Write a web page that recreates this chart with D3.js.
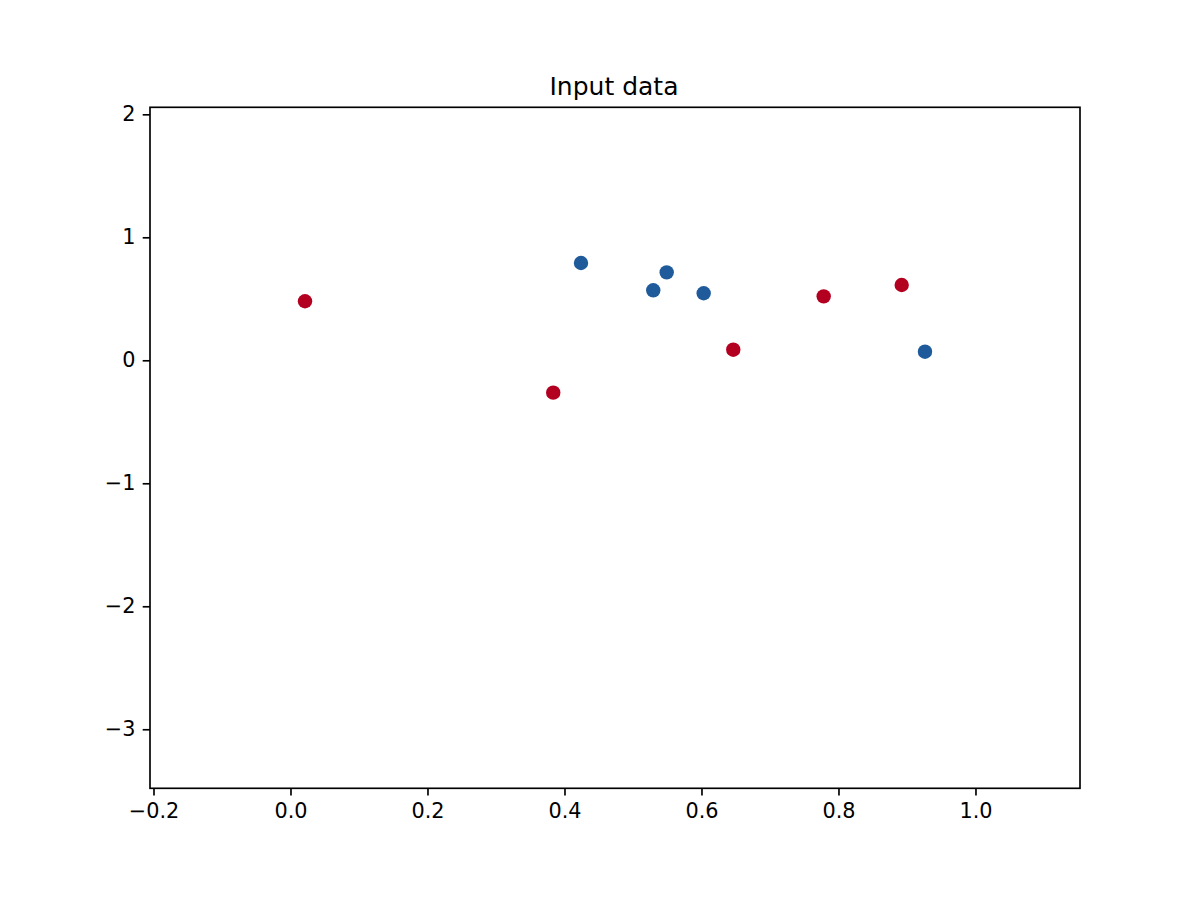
<!DOCTYPE html>
<html><head><meta charset="utf-8">
<script src="https://cdn.jsdelivr.net/npm/d3@7"></script>
<style>body{margin:0;background:#fff}svg{display:block}text{font-family:"DejaVu Sans",sans-serif}</style>
</head><body>
<svg id="c" width="1200" height="900"></svg>
<script>
const redX = [0.0212, 0.3836, 0.6464, 0.7784, 0.8923];
const redY = [0.480, -0.263, 0.086, 0.520, 0.612];
const blueX = [0.4241, 0.5492, 0.5296, 0.6032, 0.9263];
const blueY = [0.791, 0.715, 0.569, 0.545, 0.070];
const xTicks = [-0.2, 0.0, 0.2, 0.4, 0.6, 0.8, 1.0];
const yTicks = [-3, -2, -1, 0, 1, 2];
const title = "Input data";

const L = 150, R = 1080, T = 107.3, B = 788.3;
const svg = d3.select("#c");
const x = d3.scaleLinear().domain([-0.2051, 1.1526]).range([L, R]);
const y = d3.scaleLinear().domain([-3.48, 2.057]).range([B, T]);

const fmtX = d => (d < 0 ? "\u2212" : "") + Math.abs(d).toFixed(1);
const fmtY = d => (d < 0 ? "\u2212" : "") + Math.abs(d);

const xAxis = svg.append("g").attr("transform", `translate(0,${B})`)
  .call(d3.axisBottom(x).tickValues(xTicks).tickFormat(fmtX).tickSize(7.3).tickPadding(7.3));
const yAxis = svg.append("g").attr("transform", `translate(${L},0)`)
  .call(d3.axisLeft(y).tickValues(yTicks).tickFormat(fmtY).tickSize(7.3).tickPadding(7.3));
[xAxis, yAxis].forEach(g => {
  g.select(".domain").remove();
  g.selectAll(".tick line").attr("stroke", "#000").attr("stroke-width", 1.67);
  g.selectAll(".tick text").attr("fill", "#000").style("font-size", "20.8px");
});

const pts = [];
redX.forEach((v, i) => pts.push({x: v, y: redY[i], c: "#b40020"}));
blueX.forEach((v, i) => pts.push({x: v, y: blueY[i], c: "#1f5a9b"}));
svg.append("g").selectAll("circle").data(pts).join("circle")
  .attr("cx", d => x(d.x)).attr("cy", d => y(d.y)).attr("r", 7.2)
  .attr("fill", d => d.c);

svg.append("rect").attr("x", L).attr("y", T).attr("width", R - L).attr("height", B - T)
  .attr("fill", "none").attr("stroke", "#000").attr("stroke-width", 1.67);

svg.append("text").attr("x", (L + R) / 2 - 1).attr("y", T - 12.5)
  .attr("text-anchor", "middle").style("font-size", "25px").attr("fill", "#000").text(title);
</script>
</body></html>
